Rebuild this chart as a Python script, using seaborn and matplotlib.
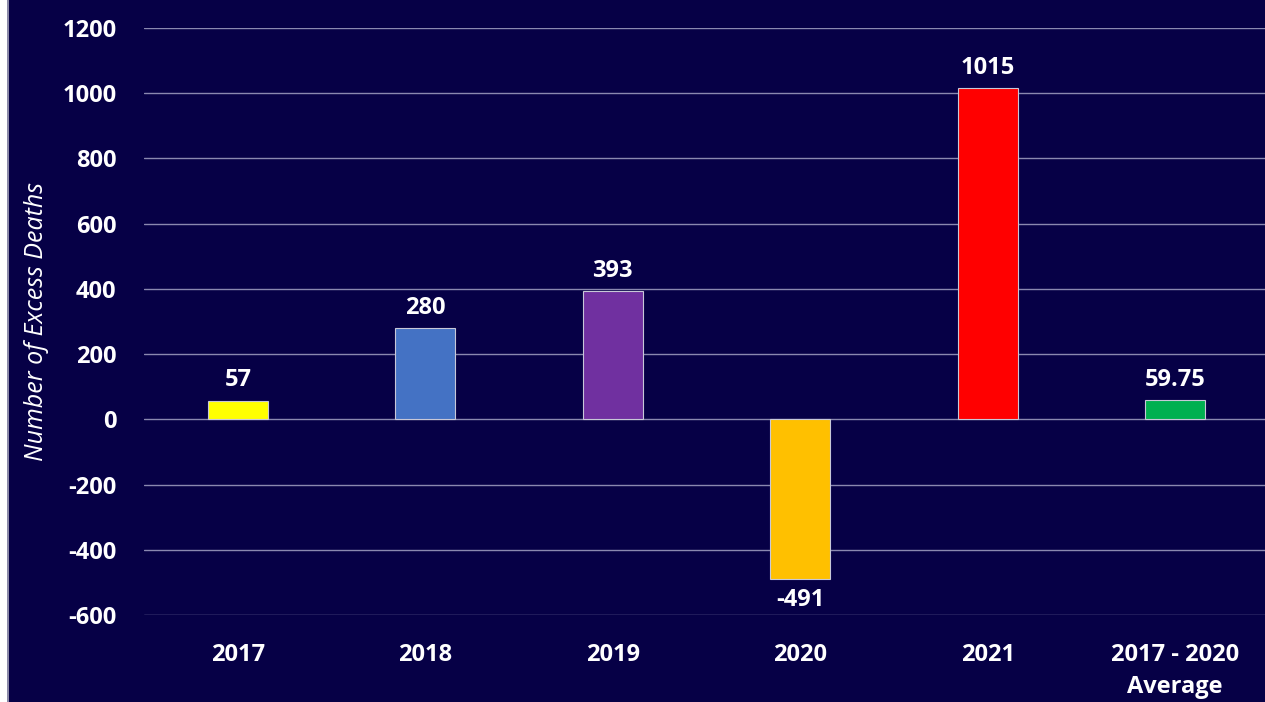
import matplotlib
matplotlib.use('Agg')
import pandas as pd
import seaborn as sns
import matplotlib.pyplot as plt
from matplotlib.patches import Rectangle

# data
categories = ["2017", "2018", "2019", "2020", "2021", "2017 - 2020\nAverage"]
excess_deaths = [57, 280, 393, -491, 1015, 59.75]
bar_colors = ["#ffff00", "#4472c4", "#7030a0", "#ffc000", "#ff0000", "#00b050"]
y_ticks = [-600, -400, -200, 0, 200, 400, 600, 800, 1000, 1200]

bg = "#060046"
grid_col = "#8a88b0"

df = pd.DataFrame({"year": categories, "deaths": excess_deaths})

sns.set_theme(style="dark")
plt.rcParams['font.family'] = ['Open Sans', 'DejaVu Sans']
plt.rcParams['axes.unicode_minus'] = False

fig = plt.figure(figsize=(12.65, 7.02), dpi=100, facecolor=bg)
ax = fig.add_axes([0.114, 0.124, 0.889, 0.836])
ax.set_facecolor(bg)

sns.barplot(data=df, x="year", y="deaths", hue="year", palette=bar_colors,
            saturation=1, legend=False, width=0.32, edgecolor="#c8c8d8",
            linewidth=0.8, ax=ax, zorder=3)

ax.set_ylim(-600, 1200)
ax.set_yticks(y_ticks)
ax.yaxis.grid(True, color=grid_col, linewidth=1.0)
ax.set_axisbelow(True)
ax.xaxis.grid(False)
for s in ax.spines.values():
    s.set_visible(False)

ax.tick_params(axis='both', colors='white', length=0, labelsize=17)
ax.tick_params(axis='y', pad=20)
ax.tick_params(axis='x', pad=20)
for lab in ax.get_xticklabels() + ax.get_yticklabels():
    lab.set_fontweight('bold')
    lab.set_color('white')
for lab in ax.get_xticklabels():
    lab.set_linespacing(1.45)

ax.set_xlabel("")
ax.set_ylabel("Number of Excess Deaths", color="white", fontsize=18,
              fontstyle="italic")
ax.yaxis.set_label_coords(-0.085, 0.5)

labels = ["{:g}".format(v) for v in excess_deaths]
for i, cont in enumerate(ax.containers):
    ax.bar_label(cont, labels=[labels[i]], padding=6, color="white",
                 fontsize=17, fontweight="bold")

# light border strip on the left edge
fig.patches.append(Rectangle((0, 0), 0.0055, 1, transform=fig.transFigure,
                             facecolor="white", edgecolor="none"))
fig.patches.append(Rectangle((0.0055, 0), 0.0016, 1, transform=fig.transFigure,
                             facecolor="#8c8aa8", edgecolor="none"))

fig.savefig("out.png", dpi=100, facecolor=bg)
